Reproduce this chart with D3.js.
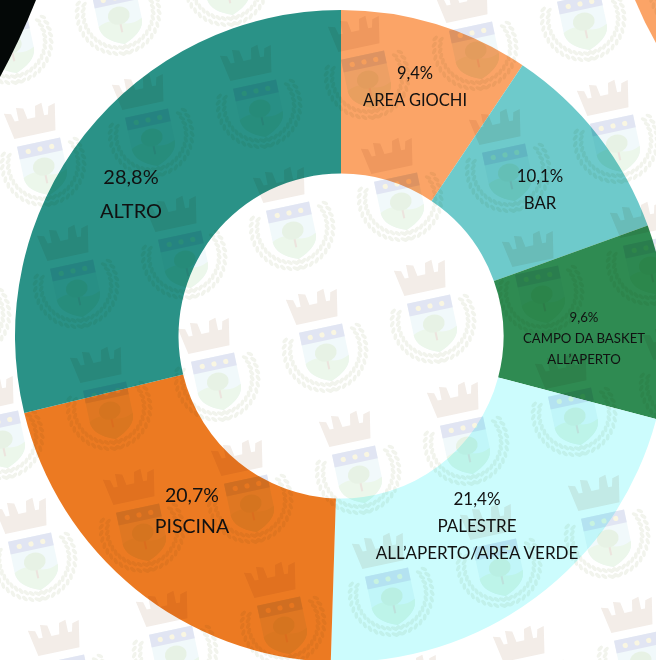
<!DOCTYPE html>
<html lang="en">
<head>
<meta charset="utf-8">
<title>Donut</title>
<script src="https://cdnjs.cloudflare.com/ajax/libs/d3/7.8.5/d3.min.js"></script>
<style>
  html, body { margin: 0; padding: 0; background: #fff; overflow: hidden; }
  svg { display: block; }
  text { font-family: Lato, "Open Sans", sans-serif; fill: #111; text-anchor: middle; }
</style>
</head>
<body>
<div id="chart"></div>
<script>
// data
var categories = ["AREA GIOCHI", "BAR", "CAMPO DA BASKET ALL'APERTO", "PALESTRE ALL'APERTO/AREA VERDE", "PISCINA", "ALTRO"];
var values = [9.4, 10.1, 9.6, 21.4, 20.7, 28.8];
var valueLabels = ["9,4%", "10,1%", "9,6%", "21,4%", "20,7%", "28,8%"];
var nameLines = [["AREA GIOCHI"], ["BAR"], ["CAMPO DA BASKET", "ALL\u2019APERTO"], ["PALESTRE", "ALL\u2019APERTO/AREA VERDE"], ["PISCINA"], ["ALTRO"]];

// style and layout
var colors = ["#fba467", "#6ecacb", "#2f8b52", "#ccfcfd", "#ec7a22", "#2a9287"];
var labelX = [415, 540, 584, 477, 192, 131];
var labelY = [[79, 106], [182, 209], [322, 343, 364], [505, 532, 559], [502, 533], [184, 218]];
var labelSize = [16.5, 16.8, 13.2, 17, 19.5, 20];

var width = 656, height = 660;
var cx = 341, cy = 336, outer = 326, inner = 162.5;

var svg = d3.select("#chart").append("svg")
    .attr("width", width)
    .attr("height", height);

var color = d3.scaleOrdinal().domain(categories).range(colors);

// crest used as the page watermark, origin is the middle of the crown
var defs = svg.append("defs");
var crest = defs.append("g").attr("id", "crest");

crest.append("path")
    .attr("fill", "#e6dad0")
    .attr("d", "M-26,-13 L-19,-11 L-17,-3 L-13,-3 L-13,-16 L-6,-14 L-4,-3 L4,-3 L6,-14 L13,-16 L13,-3 L17,-3 L19,-11 L26,-13 L21,14 L-21,14 Z");

crest.append("path")
    .attr("fill", "#e3f3f6")
    .attr("d", "M-20,22 L24,22 L24,54 Q24,68 2,76 Q-20,68 -20,54 Z");
crest.append("path")
    .attr("fill", "#c3cbe6")
    .attr("d", "M-20,22 L24,22 L24,35 L-20,35 Z");
crest.append("path")
    .attr("fill", "#d8eed6")
    .attr("d", "M-20,54 Q-9,48 2,54 Q13,60 24,54 Q24,68 2,76 Q-20,68 -20,54 Z");
[-10, 2, 14].forEach(function(x) {
    crest.append("circle").attr("cx", x).attr("cy", 29).attr("r", 2.6).attr("fill", "#f3ecc4");
});
crest.append("rect").attr("x", 1).attr("y", 48).attr("width", 2).attr("height", 16).attr("fill", "#d9c9bc");
crest.append("ellipse").attr("cx", 2).attr("cy", 47).attr("rx", 11).attr("ry", 9).attr("fill", "#cfe5cb");

// laurel leaves on both sides of the shield
[-1, 1].forEach(function(side) {
    d3.range(-25, 95, 9).forEach(function(deg) {
        var t = deg * Math.PI / 180;
        var x = 2 + side * 38 * Math.cos(t);
        var y = 44 + 38 * Math.sin(t);
        [-3, 3].forEach(function(off) {
            var lx = x + side * off * Math.cos(t);
            var ly = y + off * Math.sin(t);
            crest.append("ellipse")
                .attr("cx", lx)
                .attr("cy", ly)
                .attr("rx", 3.4).attr("ry", 1.8)
                .attr("transform", "rotate(" + (side * deg + side * 60) + " " + lx + " " + ly + ")")
                .attr("fill", "#e4e8da");
        });
    });
});

// bits of the neighbouring charts in the corners
var corner = d3.path();
corner.moveTo(0, 0);
corner.lineTo(36, 0);
corner.quadraticCurveTo(20, 40, 0, 77);
corner.closePath();
svg.append("path").attr("d", corner.toString()).attr("fill", "#040807");

var corner2 = d3.path();
corner2.moveTo(635, 0);
corner2.quadraticCurveTo(644, 22, 656, 43);
corner2.lineTo(656, 0);
corner2.closePath();
svg.append("path").attr("d", corner2.toString()).attr("fill", "#fba467");

// donut
var pie = d3.pie().sort(null);
var arc = d3.arc().innerRadius(inner).outerRadius(outer);

svg.append("g")
    .attr("transform", "translate(" + cx + "," + cy + ")")
  .selectAll("path")
  .data(pie(values))
  .enter().append("path")
    .attr("d", arc)
    .attr("fill", function(d, i) { return color(categories[i]); });

// watermark goes over the slices, multiplied like the original
var tiles = svg.append("g")
    .style("mix-blend-mode", "multiply")
    .style("opacity", 0.5);
d3.range(-10, 11).forEach(function(i) {
    d3.range(-10, 11).forEach(function(j) {
        var x = 248 - 108 * i + 33 * j;
        var y = 63 + 29 * i + 122 * j;
        if (x < -70 || x > width + 70 || y < -110 || y > height + 40) return;
        tiles.append("use")
            .attr("href", "#crest")
            .attr("transform", "translate(" + x + "," + y + ") rotate(-12)");
    });
});

// labels
var labels = svg.append("g").selectAll("g")
    .data(values)
  .enter().append("g")
    .style("font-size", function(d, i) { return labelSize[i] + "px"; });

labels.each(function(d, i) {
    var lines = [valueLabels[i]].concat(nameLines[i]);
    d3.select(this).selectAll("text")
        .data(lines)
      .enter().append("text")
        .attr("x", labelX[i])
        .attr("y", function(t, k) { return labelY[i][k]; })
        .text(function(t) { return t; });
});
</script>
</body>
</html>
